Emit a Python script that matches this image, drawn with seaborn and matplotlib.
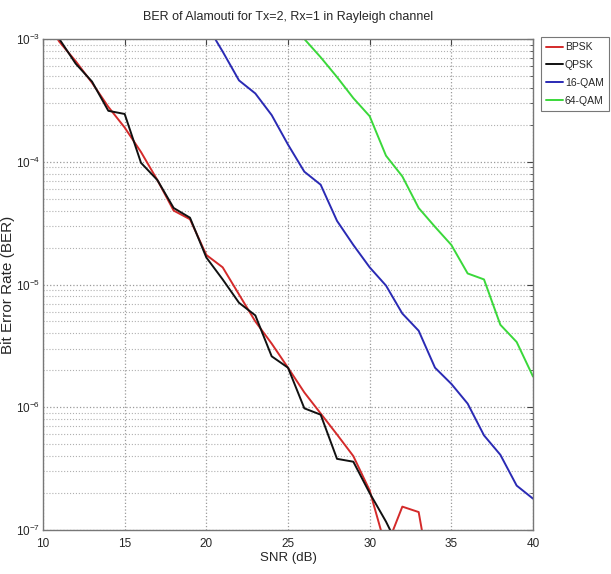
import numpy as np
import pandas as pd
import seaborn as sns
import matplotlib
matplotlib.use("Agg")
import matplotlib.pyplot as plt
from matplotlib.ticker import LogLocator, NullFormatter

nan = np.nan

snr = list(range(10, 41))

ber_bpsk = [1.55e-3, 9.5e-4, 6.6e-4, 4.4e-4, 2.8e-4, 1.9e-4, 1.2e-4, 7.1e-5, 4.0e-5, 3.4e-5,
            1.74e-5, 1.38e-5, 8.3e-6, 5.0e-6, 3.3e-6, 2.1e-6, 1.32e-6, 8.9e-7, 6.0e-7, 4.0e-7,
            2.1e-7, 7.1e-8, 1.55e-7, 1.4e-7, 2.5e-8, nan, nan, nan, nan, nan, nan]

ber_qpsk = [1.6e-3, 1.0e-3, 6.3e-4, 4.5e-4, 2.6e-4, 2.45e-4, 9.8e-5, 7.1e-5, 4.2e-5, 3.5e-5,
            1.66e-5, 1.1e-5, 7.1e-6, 5.6e-6, 2.6e-6, 2.1e-6, 9.8e-7, 8.7e-7, 3.8e-7, 3.6e-7,
            2.0e-7, 1.17e-7, 6.3e-8, nan, nan, nan, nan, nan, nan, nan, nan]

ber_16qam = [nan, nan, nan, nan, nan, nan, nan, nan, nan, nan,
             1.32e-3, 7.9e-4, 4.6e-4, 3.6e-4, 2.4e-4, 1.38e-4, 8.3e-5, 6.5e-5, 3.3e-5, 2.1e-5,
             1.38e-5, 9.8e-6, 5.8e-6, 4.2e-6, 2.1e-6, 1.55e-6, 1.07e-6, 5.9e-7, 4.1e-7, 2.3e-7,
             1.8e-7]

ber_64qam = [nan, nan, nan, nan, nan, nan, nan, nan, nan, nan,
             nan, nan, nan, nan, nan, 1.4e-3, 1.0e-3, 7.1e-4, 4.9e-4, 3.3e-4,
             2.35e-4, 1.12e-4, 7.6e-5, 4.2e-5, 2.95e-5, 2.1e-5, 1.23e-5, 1.1e-5, 4.7e-6, 3.4e-6,
             1.78e-6]

labels = ["BPSK", "QPSK", "16-QAM", "64-QAM"]
colors = ["#d42a2a", "#111111", "#2a2ab4", "#3ad83a"]

df = pd.DataFrame({
    "SNR": snr * 4,
    "BER": ber_bpsk + ber_qpsk + ber_16qam + ber_64qam,
    "Modulation": [m for m in labels for _ in snr],
}).dropna()

sns.set_style("white")
plt.rcParams["font.family"] = ["Liberation Sans", "DejaVu Sans"]

fig = plt.figure(figsize=(6.11, 5.74), dpi=100)
ax = fig.add_axes([43 / 611, 1 - 530 / 574, 490 / 611, 491 / 574])

sns.lineplot(data=df, x="SNR", y="BER", hue="Modulation", hue_order=labels,
             palette=colors, estimator=None, linewidth=1.4, ax=ax, legend=True)

ax.set_yscale("log")
ax.set_xlim(10, 40)
ax.set_ylim(1e-7, 1e-3)
ax.set_xticks([10, 15, 20, 25, 30, 35, 40])
ax.yaxis.set_major_locator(LogLocator(base=10, numticks=10))
ax.yaxis.set_minor_locator(LogLocator(base=10, subs=np.arange(2, 10), numticks=20))
ax.yaxis.set_minor_formatter(NullFormatter())

ax.grid(True, which="major", axis="both", color="#9a9a9a", linestyle=":", linewidth=0.9)
ax.grid(True, which="minor", axis="y", color="#b0b0b0", linestyle=":", linewidth=0.8)
ax.tick_params(which="both", direction="in", top=True, right=True, labelsize=8.5,
               color="#444444", length=4)
ax.tick_params(axis="x", which="major", pad=6)
ax.tick_params(axis="y", which="major", pad=2)
ax.tick_params(which="minor", length=2)
for s in ax.spines.values():
    s.set_color("#777777")
    s.set_linewidth(1.0)

ax.set_title("BER of Alamouti for Tx=2, Rx=1 in Rayleigh channel", fontsize=9, pad=14)
ax.set_xlabel("SNR (dB)", fontsize=9.5, labelpad=1)
ax.set_ylabel("Bit Error Rate (BER)", fontsize=11)
ax.yaxis.set_label_coords(-0.058, 0.5)

leg = ax.legend(loc="upper left", bbox_to_anchor=(541 / 611, 1 - 37 / 574),
                bbox_transform=fig.transFigure, fontsize=7.5, frameon=True,
                fancybox=False, handlelength=1.6, handletextpad=0.2,
                borderpad=0.5, labelspacing=0.75, borderaxespad=0)
leg.get_frame().set_edgecolor("#555555")
leg.get_frame().set_linewidth(0.8)

fig.savefig("out.png", dpi=100)
